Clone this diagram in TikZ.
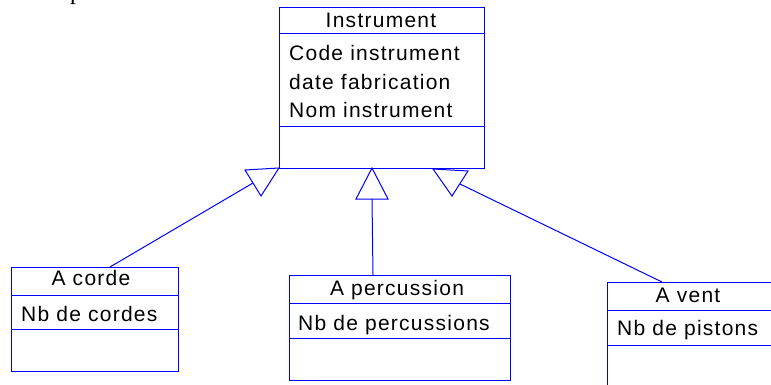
\documentclass[tikz,border=0pt]{standalone}
\usepackage{fontspec}
\newfontfamily\umlfont[LetterSpace=6]{Liberation Sans}
\newfontfamily\serffont{Liberation Serif}
\tikzset{
  classbox/.style={draw=blue, line width=1pt, rectangle, inner sep=0pt, anchor=north west, fill=none},
  sepline/.style={draw=blue, line width=1pt},
  conn/.style={draw=blue, line width=1pt},
  tri/.style={draw=blue, line width=1pt, line join=miter},
  lbl/.style={font=\umlfont\fontsize{21}{25}\selectfont, inner sep=0pt, anchor=base},
  attr/.style={font=\umlfont\fontsize{21}{25}\selectfont, inner sep=0pt, anchor=base west},
}
\begin{document}
\begin{tikzpicture}[x=1pt,y=-1pt]
\clip (0,0) rectangle (771,385);
\fill[white] (0,0) rectangle (771,385);
% fragment of text at top left
\node[font=\serffont\fontsize{24}{28}\selectfont, inner sep=0pt, anchor=base west] (frag) at (70,0) {p};
% Instrument
\node[classbox, minimum width=205pt, minimum height=161pt] (instr) at (279,7) {};
\draw[sepline] (279,34) -- (484,34);
\draw[sepline] (279,127) -- (484,127);
\node[lbl] (instrT) at (381,28) {Instrument};
\node[attr] (a1) at (289,61) {Code instrument};
\node[attr] (a2) at (289,90) {date fabrication};
\node[attr] (a3) at (289,118) {Nom instrument};
% A corde
\node[classbox, minimum width=167pt, minimum height=104pt] (corde) at (11,267) {};
\draw[sepline] (11,295) -- (178,295);
\draw[sepline] (11,329) -- (178,329);
\node[lbl] (cordeT) at (91,285) {A corde};
\node[attr] (c1) at (21,321) {Nb de cordes};
% A percussion
\node[classbox, minimum width=221pt, minimum height=105pt] (perc) at (289,275) {};
\draw[sepline] (289,303) -- (510,303);
\draw[sepline] (289,338) -- (510,338);
\node[lbl] (percT) at (397,295) {A percussion};
\node[attr] (p1) at (298,330) {Nb de percussions};
% A vent
\node[classbox, minimum width=180pt, minimum height=110pt] (vent) at (607,282) {};
\draw[sepline] (607,310) -- (787,310);
\draw[sepline] (607,345) -- (787,345);
\node[lbl] (ventT) at (688,302) {A vent};
\node[attr] (v1) at (617,335) {Nb de pistons};
% triangles
\coordinate (t1a) at (245,170);
\coordinate (t1b) at (279,168);
\coordinate (t1c) at (261,196);
\coordinate (t1m) at (253,183);
\draw[tri] (t1a) -- (t1b) -- (t1c) -- cycle;
\coordinate (t2a) at (372,168);
\coordinate (t2b) at (388,199);
\coordinate (t2c) at (356,199);
\coordinate (t2m) at (372,199);
\draw[tri] (t2a) -- (t2b) -- (t2c) -- cycle;
\coordinate (t3a) at (433,169);
\coordinate (t3b) at (468,171);
\coordinate (t3c) at (452,196);
\coordinate (t3m) at (460,184);
\draw[tri] (t3a) -- (t3b) -- (t3c) -- cycle;
% connectors
\coordinate (cordeTop) at (110,267);
\coordinate (percTop) at (373,275);
\coordinate (ventTop) at (662,282);
\draw[conn] (cordeTop) -- (t1m);
\draw[conn] (percTop) -- (t2m);
\draw[conn] (ventTop) -- (t3m);
\end{tikzpicture}
\end{document}
